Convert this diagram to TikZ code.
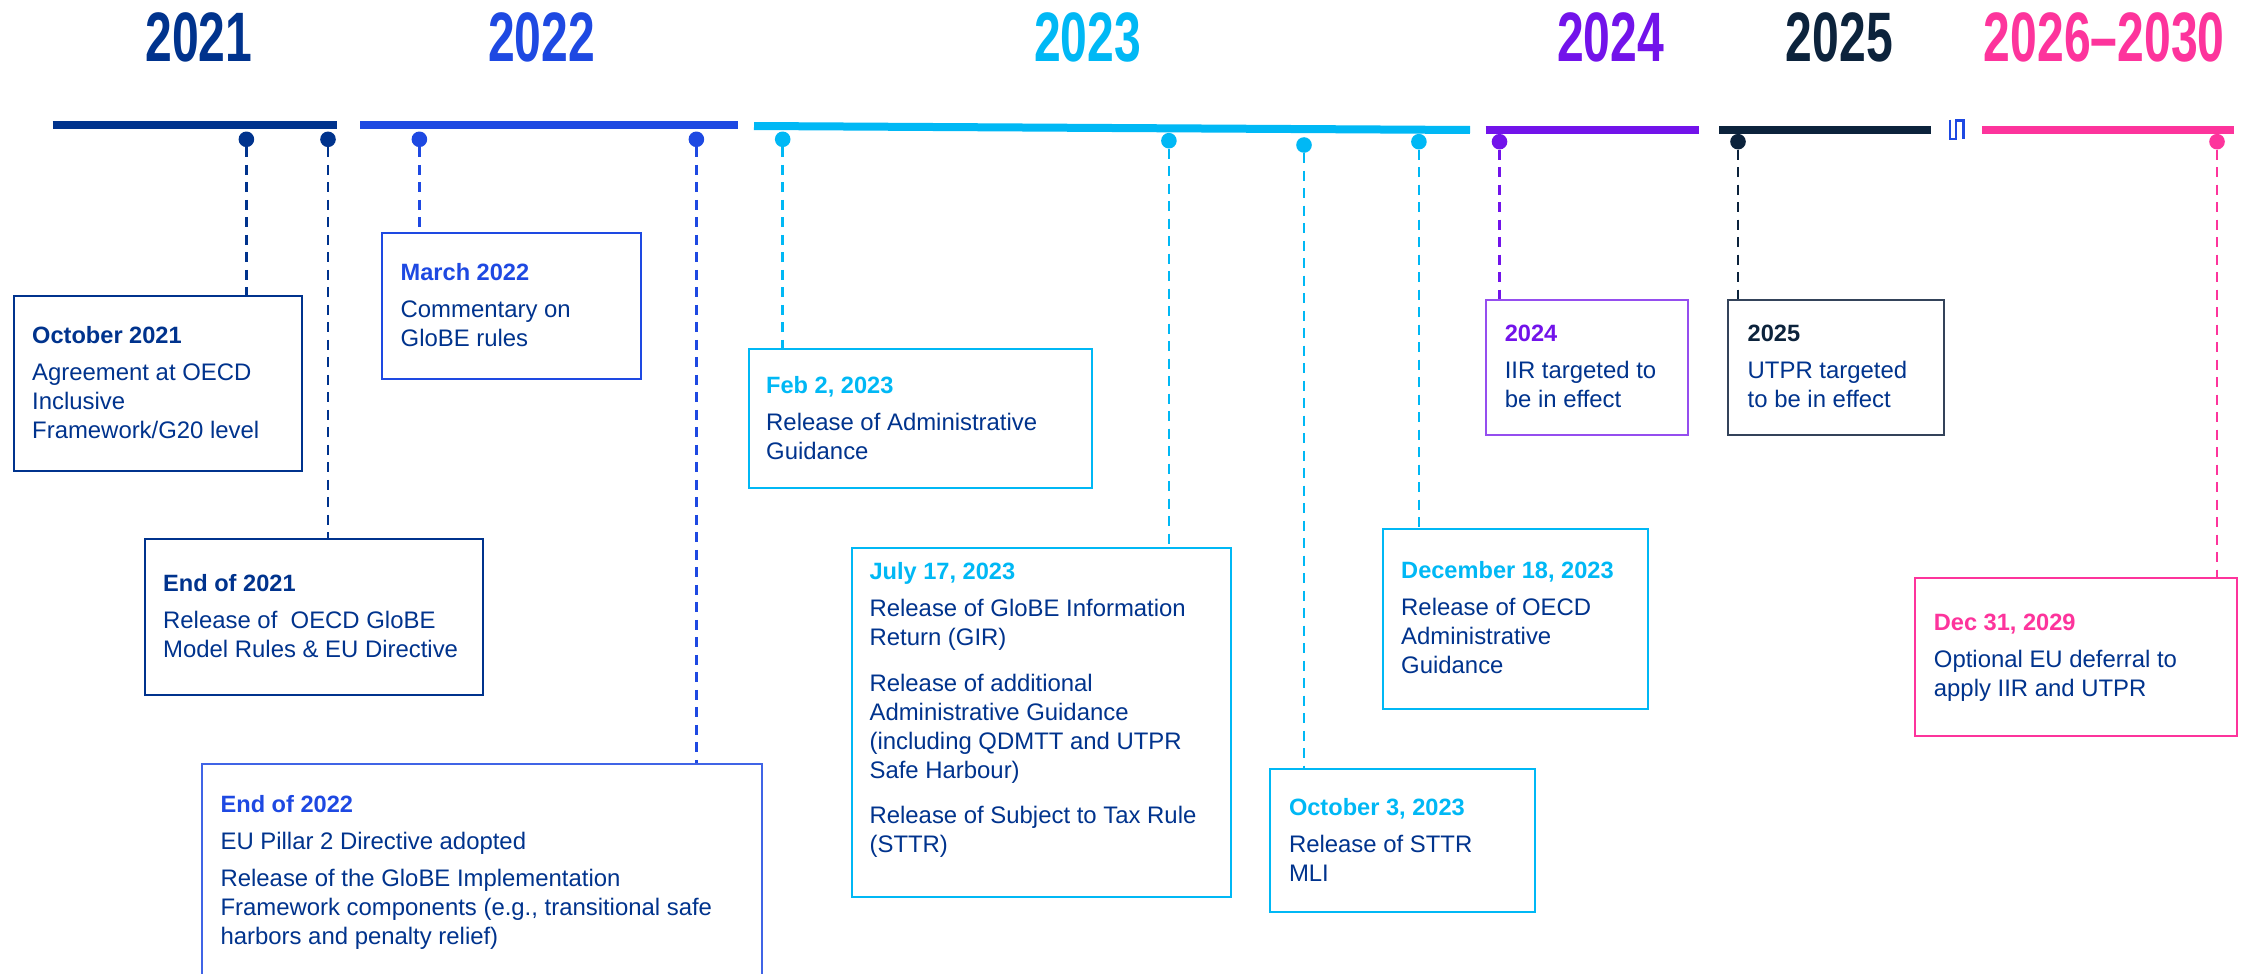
\documentclass[tikz,border=0pt]{standalone}
\usepackage{graphicx}
\usepackage{fontspec}
\setmainfont{Liberation Sans}
\definecolor{cA}{HTML}{00338D}
\definecolor{cB}{HTML}{1E49E2}
\definecolor{cC}{HTML}{00B8F5}
\definecolor{cD}{HTML}{7213EA}
\definecolor{cE}{HTML}{0C233C}
\definecolor{cF}{HTML}{FD349C}
\definecolor{cEline}{HTML}{34435A}
\newcommand\evtitle[2]{{\bfseries\fontsize{23.6}{29}\selectfont\color{#1}#2}}
\newcommand\yr[1]{\scalebox{0.687}[1]{#1}}
\tikzset{
  yearlbl/.style={anchor=base, inner sep=0, font=\fontsize{70}{70}\selectfont\bfseries},
  bar/.style={line width=8pt},
  dot/.style={circle, fill, inner sep=0, minimum size=15.6pt},
  evbox/.style={draw, line width=2pt, fill=white, inner sep=0, anchor=north west},
  link/.style={line width=2.6pt, dash pattern=on 10pt off 7.5pt},
  evtext/.style={anchor=north west, inner sep=0, align=left, text=cA, font=\fontsize{23.9}{29}\selectfont},
}
\begin{document}
\begin{tikzpicture}[x=1pt,y=-1pt]
\clip (0,0) rectangle (2247,974);
\fill[white] (0,0) rectangle (2247,974);

% year labels
\node[yearlbl, text=cA] (y21) at (199,61.7) {\yr{2021}};
\node[yearlbl, text=cB] (y22) at (541.5,61.7) {\yr{2022}};
\node[yearlbl, text=cC] (y23) at (1087.7,61.7) {\yr{2023}};
\node[yearlbl, text=cD] (y24) at (1610.5,61.7) {\yr{2024}};
\node[yearlbl, text=cE] (y25) at (1839.3,61.7) {\yr{2025}};
\node[yearlbl, text=cF] (y26) at (2104.3,61.7) {\yr{2026--2030}};

% bars
\draw[bar, cA] (52.5,125) -- (336.7,125);
\draw[bar, cB] (360,125) -- (738,125);
\draw[bar, cC] (754,126) -- (1470,130);
\draw[bar, cD] (1485.7,130) -- (1699,130);
\draw[bar, cE] (1719,130) -- (1931,130);
\draw[bar, cF] (1982,130) -- (2234,130);
% break mark
\draw[cB, line width=2.5pt, line cap=butt, line join=miter]
  (1950,119.5) -- (1950,139) -- (1956,139) -- (1956,120.5) -- (1963.3,120.5) -- (1963.3,138.5);

% dots
\node[dot, cA] (d1) at (246.4,139.3) {};
\node[dot, cA] (d2) at (328,139.3) {};
\node[dot, cB] (d3) at (419.4,139.3) {};
\node[dot, cB] (d4) at (696.4,139.3) {};
\node[dot, cC] (d5) at (782.7,139.3) {};
\node[dot, cC] (d6) at (1168.9,140.7) {};
\node[dot, cC] (d7) at (1304,145) {};
\node[dot, cC] (d8) at (1418.9,141.7) {};
\node[dot, cD] (d9) at (1499.5,141.7) {};
\node[dot, cE] (d10) at (1738,141.7) {};
\node[dot, cF] (d11) at (2217,141.7) {};

% boxes
\node[evbox, draw=cA, minimum width=288.2pt, minimum height=175pt] (b1) at (12.8,295) {};
\node[evbox, draw=cA, minimum width=337.6pt, minimum height=156.3pt] (b2) at (144.4,538) {};
\node[evbox, draw=cB, minimum width=259pt, minimum height=146pt] (b3) at (381,232) {};
\node[evbox, draw=cB!85!white, minimum width=559.7pt, minimum height=260pt] (b4) at (201,762.7) {};
\node[evbox, draw=cC, minimum width=343.3pt, minimum height=139.3pt] (b5) at (747.5,347.7) {};
\node[evbox, draw=cC, minimum width=379.1pt, minimum height=349.3pt] (b6) at (850.5,546.7) {};
\node[evbox, draw=cC, minimum width=265.3pt, minimum height=143pt] (b7) at (1268.9,768) {};
\node[evbox, draw=cC, minimum width=265pt, minimum height=179.7pt] (b8) at (1382,528) {};
\node[evbox, draw=cD!75!white, minimum width=202.3pt, minimum height=135pt] (b9) at (1484.7,299.3) {};
\node[evbox, draw=cEline, minimum width=216.6pt, minimum height=134.7pt] (b10) at (1726.7,299.3) {};
\node[evbox, draw=cF, minimum width=321.4pt, minimum height=158.3pt] (b11) at (1914.3,576.7) {};

% connectors
\draw[link, cA] (d1.south) -- (d1.south |- b1.north);
\draw[link, cA] (d2.south) -- (d2.south |- b2.north);
\draw[link, cB] (d3.south) -- (d3.south |- b3.north);
\draw[link, cB] (d4.south) -- (d4.south |- b4.north);
\draw[link, cC] (d5.south) -- (d5.south |- b5.north);
\draw[link, cC] (d6.south) -- (d6.south |- b6.north);
\draw[link, cC] (d7.south) -- (d7.south |- b7.north);
\draw[link, cC] (d8.south) -- (d8.south |- b8.north);
\draw[link, cD] (d9.south) -- (d9.south |- b9.north);
\draw[link, cE] (d10.south) -- (d10.south |- b10.north);
\draw[link, cF] (d11.south) -- (d11.south |- b11.north);

% texts (north = first baseline - 20.3)
\node[evtext] (t1) at (32,322.7) {\strut\evtitle{cA}{October 2021}\\[8pt]Agreement at OECD\\Inclusive\\Framework/G20 level};
\node[evtext] (t2) at (163,571.4) {\strut\evtitle{cA}{End of 2021}\\[8pt]Release of \ OECD GloBE\\Model Rules \& EU Directive};
\node[evtext] (t3) at (400.5,259.7) {\strut\evtitle{cB}{March 2022}\\[8pt]Commentary on\\GloBE rules};
\node[evtext] (t4) at (220.4,792) {\strut\evtitle{cB}{End of 2022}\\[8pt]EU Pillar 2 Directive adopted\\[8pt]Release of the GloBE Implementation\\Framework components (e.g., transitional safe\\harbors and penalty relief)};
\node[evtext] (t5) at (766,372.7) {\strut\evtitle{cC}{Feb 2, 2023}\\[8pt]Release of Administrative\\Guidance};
\node[evtext] (t6) at (869.4,559) {\strut\evtitle{cC}{July 17, 2023}\\[8pt]Release of GloBE Information\\Return (GIR)\\[16.7pt]Release of additional\\Administrative Guidance\\(including QDMTT and UTPR\\Safe Harbour)\\[16.7pt]Release of Subject to Tax Rule\\(STTR)};
\node[evtext] (t7) at (1288.8,794.7) {\strut\evtitle{cC}{October 3, 2023}\\[8pt]Release of STTR\\MLI};
\node[evtext] (t8) at (1401,558) {\strut\evtitle{cC}{December 18, 2023}\\[8pt]Release of OECD\\Administrative\\Guidance};
\node[evtext] (t9) at (1504.6,321.4) {\strut\evtitle{cD}{2024}\\[8pt]IIR targeted to\\be in effect};
\node[evtext] (t10) at (1747.5,321.4) {\strut\evtitle{cE}{2025}\\[8pt]UTPR targeted\\to be in effect};
\node[evtext] (t11) at (1933.7,609.7) {\strut\evtitle{cF}{Dec 31, 2029}\\[8pt]Optional EU deferral to\\apply IIR and UTPR};
\end{tikzpicture}
\end{document}
